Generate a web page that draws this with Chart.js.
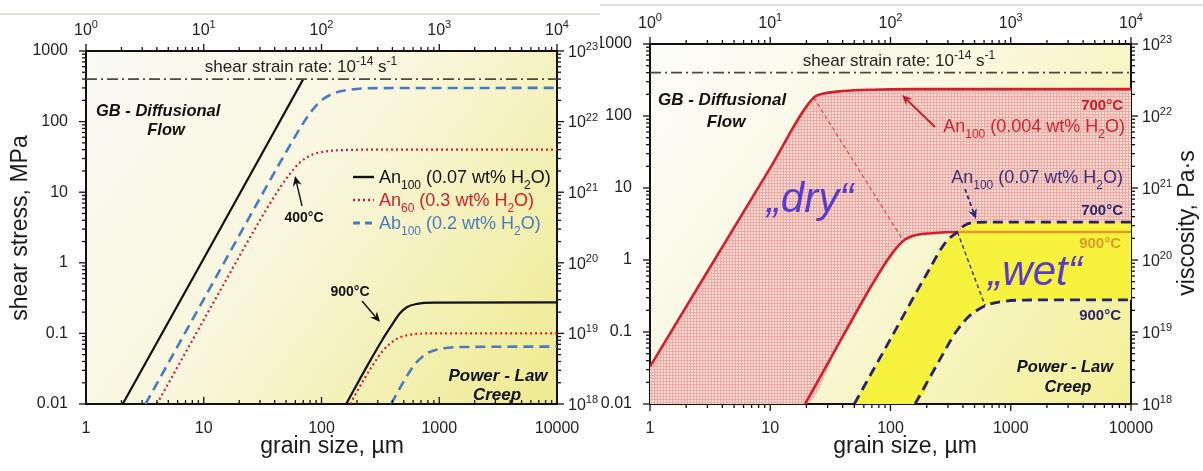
<!DOCTYPE html>
<html><head><meta charset="utf-8">
<script src="https://cdn.jsdelivr.net/npm/chart.js@4/dist/chart.umd.min.js"></script>
<style>
html,body{margin:0;padding:0;background:#fff;width:1203px;height:471px;overflow:hidden}
canvas{position:absolute;top:0}
#ca{left:0}
#cb{left:600px}
</style></head><body>
<canvas id="ca" width="600" height="471" style="width:600px;height:471px"></canvas>
<canvas id="cb" width="603" height="471" style="width:603px;height:471px"></canvas>
<script>
// ---------- axes ----------
const grainTicks = [1, 10, 100, 1000, 10000];
const stressTicks = [0.01, 0.1, 1, 10, 100, 1000];
const topExponents = ['0', '1', '2', '3', '4'];
const viscExponents = ['18', '19', '20', '21', '22', '23'];
const strainRateLine = [[1, 400], [10000, 400]];

// ---------- left panel series [grain size µm, shear stress MPa] ----------
const an100w07_400C = [[2.05, 0.01], [10, 1.15], [70, 400]];
const an100w07_900C = [[162, 0.01], [250, 0.037], [330, 0.082], [400, 0.135], [460, 0.19], [530, 0.235], [650, 0.262], [900, 0.272], [10000, 0.275]];
const an60w3_400C = [[4, 0.01], [15, 0.52], [30, 4.0], [45, 12], [55, 19], [65, 26], [80, 33], [100, 37], [150, 39.5], [300, 40], [10000, 40]];
const an60w3_900C = [[175, 0.01], [230, 0.0225], [280, 0.038], [330, 0.056], [380, 0.071], [450, 0.086], [550, 0.095], [800, 0.1], [10000, 0.1]];
const ab100w2_400C = [[3.2, 0.01], [15, 1.03], [30, 8.2], [50, 37], [70, 95], [85, 150], [100, 200], [130, 255], [180, 285], [300, 298], [10000, 300]];
const ab100w2_900C = [[390, 0.01], [500, 0.021], [600, 0.034], [700, 0.045], [800, 0.053], [1000, 0.06], [1400, 0.064], [10000, 0.065]];

// ---------- right panel series ----------
const dry700C = [[1, 0.033], [10, 19], [23, 180], [28, 205], [40, 222], [70, 232], [150, 236], [10000, 236]];
const dry900C = [[19.5, 0.01], [40, 0.086], [70, 0.45], [100, 1.15], [128, 1.85], [160, 2.2], [220, 2.35], [360, 2.45], [10000, 2.45]];
const wet700C = [[50, 0.01], [100, 0.08], [200, 0.64], [290, 1.8], [360, 2.45], [410, 3.0], [480, 3.3], [700, 3.35], [10000, 3.35]];
const wet900C = [[160, 0.01], [250, 0.038], [350, 0.1], [450, 0.165], [550, 0.21], [650, 0.24], [850, 0.265], [1300, 0.278], [10000, 0.28]];
const dryGuide = [[23, 180], [128, 1.85]];
const wetGuide = [[360, 2.45], [612, 0.232]];
const junction = 360;

const FONT = '"Liberation Sans", Arial, Helvetica, sans-serif';
const P = a => a.map(([x, y]) => ({x, y}));

function minorValues(majors) {
  const out = [];
  for (let i = 0; i < majors.length - 1; i++) for (let k = 2; k <= 9; k++) out.push(majors[i] * k);
  return out;
}

function rich(ctx, parts, x, y, o) {
  const size = o.size || 16, style = o.style || '';
  const fonts = parts.map(p => `${style} ${p[1] ? Math.round(size * 0.68) : size}px ${FONT}`);
  let w = 0;
  const ws = parts.map((p, i) => { ctx.font = fonts[i]; const m = ctx.measureText(p[0]).width; w += m; return m; });
  let cx = o.align === 'center' ? x - w / 2 : o.align === 'right' ? x - w : x;
  ctx.save();
  ctx.textAlign = 'left';
  ctx.textBaseline = 'alphabetic';
  ctx.fillStyle = o.color || '#111';
  const base = y + size * 0.36;
  parts.forEach((p, i) => {
    ctx.font = fonts[i];
    const dy = p[1] === 1 ? size * 0.28 : p[1] === 2 ? -size * 0.42 : 0;
    ctx.fillText(p[0], cx, base + dy);
    cx += ws[i];
  });
  ctx.restore();
}

function arrow(ctx, x1, y1, x2, y2, color, width, dash) {
  const ang = Math.atan2(y2 - y1, x2 - x1), hl = 10, hw = 4.5;
  ctx.save();
  ctx.strokeStyle = color; ctx.fillStyle = color; ctx.lineWidth = width;
  ctx.setLineDash(dash || []);
  ctx.beginPath(); ctx.moveTo(x1, y1);
  ctx.lineTo(x2 - Math.cos(ang) * hl * 0.7, y2 - Math.sin(ang) * hl * 0.7); ctx.stroke();
  ctx.setLineDash([]);
  ctx.beginPath();
  ctx.moveTo(x2, y2);
  ctx.lineTo(x2 - Math.cos(ang) * hl - Math.sin(ang) * hw, y2 - Math.sin(ang) * hl + Math.cos(ang) * hw);
  ctx.lineTo(x2 - Math.cos(ang) * hl * 0.7, y2 - Math.sin(ang) * hl * 0.7);
  ctx.lineTo(x2 - Math.cos(ang) * hl + Math.sin(ang) * hw, y2 - Math.sin(ang) * hl - Math.cos(ang) * hw);
  ctx.closePath(); ctx.fill();
  ctx.restore();
}

function text(ctx, s, x, y, font, color, align) {
  ctx.save(); ctx.font = font; ctx.fillStyle = color || '#111';
  ctx.textAlign = align || 'center'; ctx.textBaseline = 'middle';
  ctx.fillText(s, x, y); ctx.restore();
}

function frameDecor(chart, cfg) {
  const ctx = chart.ctx, a = chart.chartArea, sx = chart.scales.x, sy = chart.scales.y;
  ctx.save();
  ctx.strokeStyle = '#111'; ctx.lineWidth = 1.3;
  const seg = (x1, y1, x2, y2) => { ctx.beginPath(); ctx.moveTo(x1, y1); ctx.lineTo(x2, y2); ctx.stroke(); };
  [[grainTicks, 7], [minorValues(grainTicks), 4]].forEach(([vals, len]) => vals.forEach(v => {
    const px = sx.getPixelForValue(v);
    seg(px, a.top, px, a.top - len);
    seg(px, a.bottom, px, a.bottom + (cfg.bottomIn ? -len : len));
  }));
  [[stressTicks, 7], [minorValues(stressTicks), 4]].forEach(([vals, len]) => vals.forEach(v => {
    const py = sy.getPixelForValue(v);
    seg(a.left, py, a.left - len, py);
    seg(a.right, py, a.right + len, py);
  }));
  ctx.restore();
  grainTicks.forEach((v, i) => rich(ctx, [['10', 0], [topExponents[i], 2]], sx.getPixelForValue(v), a.top - 22, {size: 16, align: 'center', color: '#222'}));
  stressTicks.forEach((v, i) => rich(ctx, [['10', 0], [viscExponents[i], 2]], a.right + 11, sy.getPixelForValue(v), {size: 16, align: 'left', color: '#222'}));
  text(ctx, 'grain size, µm', cfg.xTitle[0], cfg.xTitle[1], `23px ${FONT}`, '#1a1a1a');
  ctx.save();
  ctx.translate(cfg.yTitle[0], cfg.yTitle[1]); ctx.rotate(-Math.PI / 2);
  text(ctx, cfg.yTitle[2], 0, 0, `23px ${FONT}`, '#1a1a1a');
  ctx.restore();
}

function makeScales(box) {
  const base = {type: 'logarithmic', grid: {display: false}, border: {display: true, color: '#111', width: 2}};
  const lab = v => String(v);
  return {
    x: {...base, position: 'bottom', min: 1, max: 10000,
      afterBuildTicks: s => { s.ticks = grainTicks.map(v => ({value: v})); },
      ticks: {autoSkip: false, maxRotation: 0, padding: 7, color: '#222', font: {family: FONT, size: 16}, callback: lab},
      afterFit: s => { s.height = box.bottom; }},
    x2: {...base, position: 'top', min: 1, max: 10000, ticks: {display: false}, afterFit: s => { s.height = box.top; }},
    y: {...base, position: 'left', min: 0.01, max: 1000,
      afterBuildTicks: s => { s.ticks = stressTicks.map(v => ({value: v})); },
      ticks: {autoSkip: false, padding: 10, color: '#222', font: {family: FONT, size: 16}, callback: lab},
      afterFit: s => { s.width = box.left; }},
    y2: {...base, position: 'right', min: 0.01, max: 1000, ticks: {display: false}, afterFit: s => { s.width = box.right; }}
  };
}

function bgPlugin(stops, topLine) {
  return {
    id: 'bg',
    beforeDraw(chart) {
      const ctx = chart.ctx, a = chart.chartArea;
      const g = ctx.createLinearGradient(a.left, a.top, a.right, a.bottom);
      stops.forEach(([o, c]) => g.addColorStop(o, c));
      ctx.save(); ctx.fillStyle = g; ctx.fillRect(a.left, a.top, a.right - a.left, a.bottom - a.top);
      ctx.fillStyle = '#e2e2da'; ctx.fillRect(0, topLine, chart.width, 2);
      ctx.restore();
    }
  };
}

const lineBase = {pointRadius: 0, fill: false, cubicInterpolationMode: 'monotone', borderCapStyle: 'butt'};
const dashDot = {...lineBase, data: P(strainRateLine), borderColor: '#4a4a3e', borderWidth: 1.8, borderDash: [11, 4, 2, 4], cubicInterpolationMode: 'default', tension: 0};
const commonPlugins = {legend: {display: false}, tooltip: {enabled: false}, filler: {drawTime: 'beforeDatasetsDraw'}};

// ================= LEFT PANEL =================
const RED = '#d3202c', BLUE = '#4a7bc2', NAVY = '#25236e';
new Chart(document.getElementById('ca'), {
  type: 'line',
  data: {datasets: [
    dashDot,
    {...lineBase, data: P(an100w07_400C), borderColor: '#111', borderWidth: 2.2},
    {...lineBase, data: P(an100w07_900C), borderColor: '#111', borderWidth: 2.2},
    {...lineBase, data: P(an60w3_400C), borderColor: RED, borderWidth: 2.2, borderDash: [2, 3]},
    {...lineBase, data: P(an60w3_900C), borderColor: RED, borderWidth: 2.2, borderDash: [2, 3]},
    {...lineBase, data: P(ab100w2_400C), borderColor: BLUE, borderWidth: 2.6, borderDash: [10, 6]},
    {...lineBase, data: P(ab100w2_900C), borderColor: BLUE, borderWidth: 2.6, borderDash: [10, 6]}
  ]},
  options: {
    responsive: false, animation: false, events: [],
    layout: {padding: 0},
    plugins: commonPlugins,
    scales: makeScales({left: 86, right: 43, top: 51, bottom: 67})
  },
  plugins: [bgPlugin([[0, '#fafaf6'], [0.45, '#f9f7de'], [1, '#eeea8e']], 13), {
    id: 'decoA',
    afterDraw(chart) {
      const ctx = chart.ctx;
      frameDecor(chart, {bottomIn: true, xTitle: [332, 447], yTitle: [21, 228, 'shear stress, MPa']});
      rich(ctx, [['shear strain rate: 10', 0], ['-14', 2], [' s', 0], ['-1', 2]], 301, 66, {size: 17, align: 'center', color: '#222'});
      text(ctx, 'GB - Diffusional', 96, 111, `italic bold 16.5px ${FONT}`, '#111', 'left');
      text(ctx, 'Flow', 166, 130, `italic bold 16.5px ${FONT}`, '#111');
      const rows = [
        [177, '#111', [], 2.4, [['An', 0], ['100', 1], [' (0.07 wt% H', 0], ['2', 1], ['O)', 0]]],
        [200, RED, [2, 3], 2.4, [['An', 0], ['60', 1], [' (0.3 wt% H', 0], ['2', 1], ['O)', 0]]],
        [223, BLUE, [7, 5], 3, [['Ab', 0], ['100', 1], [' (0.2 wt% H', 0], ['2', 1], ['O)', 0]]]
      ];
      rows.forEach(([y, c, dash, w, parts]) => {
        ctx.save(); ctx.strokeStyle = c; ctx.lineWidth = w; ctx.setLineDash(dash);
        ctx.beginPath(); ctx.moveTo(353, y); ctx.lineTo(374, y); ctx.stroke(); ctx.restore();
        rich(ctx, parts, 379, y, {size: 18, align: 'left', color: c});
      });
      text(ctx, '400°C', 304, 218, `bold 14px ${FONT}`, '#111');
      arrow(ctx, 302, 206, 295, 176, '#111', 1.4);
      text(ctx, '900°C', 350, 292, `bold 14px ${FONT}`, '#111');
      arrow(ctx, 362, 301, 380, 322, '#111', 1.4);
      text(ctx, 'Power - Law', 498, 376, `italic bold 17px ${FONT}`, '#111');
      text(ctx, 'Creep', 497, 395, `italic bold 17px ${FONT}`, '#111');
    }
  }]
});

// ================= RIGHT PANEL =================
const cb = document.getElementById('cb');
const pc = document.createElement('canvas'); pc.width = 3; pc.height = 3;
const pctx = pc.getContext('2d');
pctx.fillStyle = '#f9dcd5'; pctx.fillRect(0, 0, 3, 3);
pctx.fillStyle = '#f0aaa2'; pctx.fillRect(0, 0, 3, 1); pctx.fillRect(0, 0, 1, 3);
const pinkPattern = cb.getContext('2d').createPattern(pc, 'repeat');

const pinkLower = [[1, 0.01]].concat(dry900C.filter(p => p[0] <= junction), wet700C.filter(p => p[0] > junction));
const wetLower = [[wet700C[0][0], 0.01]].concat(wet900C);
const invisible = {...lineBase, borderWidth: 0, borderColor: 'rgba(0,0,0,0)'};

new Chart(cb, {
  type: 'line',
  data: {datasets: [
    dashDot,
    {...invisible, data: P(pinkLower)},
    {...invisible, data: P(wetLower)},
    {...lineBase, data: P(dry700C), borderColor: RED, borderWidth: 2.6, fill: {target: 1}, backgroundColor: pinkPattern},
    {...lineBase, data: P(wet700C), borderColor: NAVY, borderWidth: 2.8, borderDash: [10, 6], fill: {target: 2}, backgroundColor: '#f7f23e'},
    {...lineBase, data: P(dry900C), borderWidth: 2.6, borderColor: RED,
      segment: {borderColor: c => c.p0.parsed.x >= junction ? '#e49a2a' : RED}},
    {...lineBase, data: P(wet900C), borderColor: NAVY, borderWidth: 2.8, borderDash: [10, 6]},
    {...lineBase, data: P(dryGuide), borderColor: '#e0403c', borderWidth: 1.1, borderDash: [4, 3], cubicInterpolationMode: 'default', tension: 0},
    {...lineBase, data: P(wetGuide), borderColor: NAVY, borderWidth: 1.3, borderDash: [4, 3], cubicInterpolationMode: 'default', tension: 0}
  ]},
  options: {
    responsive: false, animation: false, events: [],
    layout: {padding: 0},
    plugins: commonPlugins,
    scales: makeScales({left: 50, right: 72, top: 44, bottom: 67})
  },
  plugins: [bgPlugin([[0, '#fcfcf8'], [0.45, '#faf8e0'], [1, '#f3ef96']], 4), {
    id: 'decoB',
    afterDraw(chart) {
      const ctx = chart.ctx;
      frameDecor(chart, {bottomIn: false, xTitle: [305, 447], yTitle: [588, 223, 'viscosity, Pa·s']});
      rich(ctx, [['shear strain rate: 10', 0], ['-14', 2], [' s', 0], ['-1', 2]], 299, 60, {size: 17, align: 'center', color: '#222'});
      text(ctx, 'GB - Diffusional', 58, 100, `italic bold 17px ${FONT}`, '#111', 'left');
      text(ctx, 'Flow', 126, 122, `italic bold 17px ${FONT}`, '#111');
      text(ctx, '700°C', 523, 106, `bold 15px ${FONT}`, '#c81e2a', 'right');
      rich(ctx, [['An', 0], ['100', 1], [' (0.004 wt% H', 0], ['2', 1], ['O)', 0]], 525, 126, {size: 18, align: 'right', color: '#d0242e'});
      arrow(ctx, 335, 127, 302, 95, '#c81e2a', 2);
      rich(ctx, [['An', 0], ['100', 1], [' (0.07 wt% H', 0], ['2', 1], ['O)', 0]], 523, 177, {size: 18, align: 'right', color: '#3a2f7e'});
      arrow(ctx, 365, 189, 376, 219, '#2f2a78', 1.8, [4, 3]);
      text(ctx, '700°C', 523, 211, `bold 15px ${FONT}`, '#2a2570', 'right');
      text(ctx, '„dry“', 210, 200, `italic 42px ${FONT}`, '#5a3ccc');
      text(ctx, '900°C', 521, 244, `bold 15px ${FONT}`, '#e09a28', 'right');
      text(ctx, '„wet“', 435, 273, `italic 42px ${FONT}`, '#5a3ccc');
      text(ctx, '900°C', 521, 316, `bold 15px ${FONT}`, '#2a2570', 'right');
      text(ctx, 'Power - Law', 465, 367, `italic bold 16.5px ${FONT}`, '#111');
      text(ctx, 'Creep', 468, 387, `italic bold 16.5px ${FONT}`, '#111');
    }
  }]
});
</script></body></html>
